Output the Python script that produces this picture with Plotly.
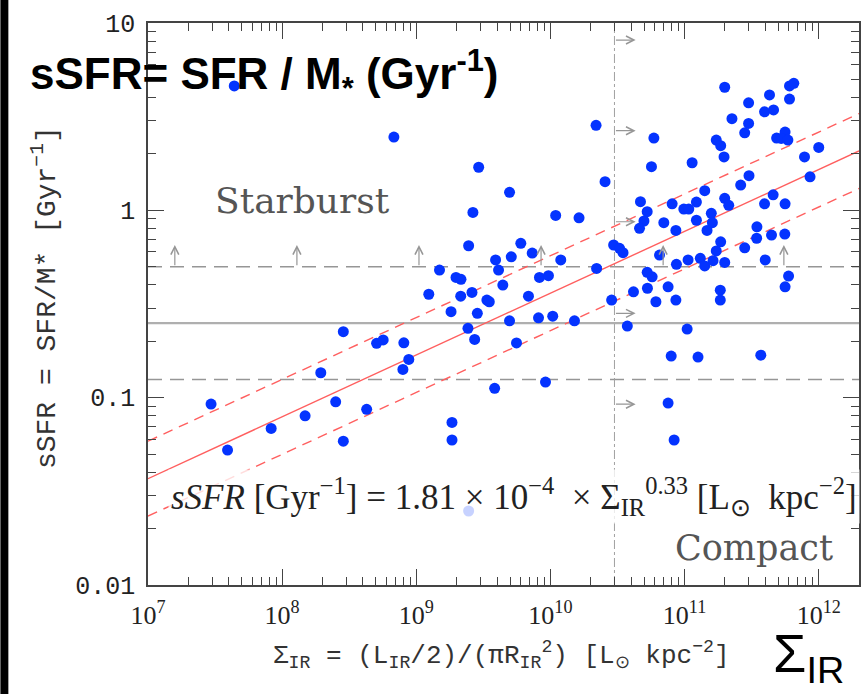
import plotly.graph_objects as go

# ---- data (log10 values) ----
log_sigma_ir = [
    9.465, 9.422, 9.390, 9.591, 9.613, 9.173, 9.296, 9.333, 9.093, 9.331,
    9.415, 9.526, 9.544, 9.259, 9.455, 9.385, 9.435, 8.456, 8.704, 8.753,
    8.907, 8.944, 8.900, 8.288, 9.584, 7.470, 8.399, 8.171, 8.630, 7.918,
    9.266, 9.266, 8.456, 7.593, 7.643, 8.833, 9.390,
    11.299, 11.477, 11.633, 11.782, 11.814, 11.782, 11.596, 11.663, 11.353, 11.477,
    11.448, 10.340, 10.771, 11.236, 11.269, 11.294, 11.686, 11.749, 11.720, 11.770,
    11.894, 12.000, 10.753, 11.056, 10.407, 9.695, 11.480, 11.418, 11.935, 11.150,
    10.671, 10.907, 11.088, 11.299, 11.329, 11.596, 11.660, 11.749, 10.721, 10.994,
    11.031, 11.199, 10.039, 10.213, 10.697, 10.664, 10.845, 10.935, 11.088, 11.207,
    11.167, 11.539, 11.537, 11.648, 11.747, 9.779, 9.708, 9.864, 10.077, 10.471,
    10.515, 10.541, 10.813, 11.269, 11.236, 11.448, 11.026, 11.117, 11.150, 11.212,
    11.299, 10.939, 11.601, 9.645, 9.918, 9.985, 10.344, 10.721, 10.758, 10.723,
    10.877, 10.619, 10.786, 10.935, 11.266, 11.266, 11.775, 11.749, 9.836, 10.456,
    9.695, 9.911, 10.017, 10.179,
    9.747, 9.963, 10.573, 11.019, 10.900, 11.100, 11.568, 10.877, 10.922,
]
log_ssfr = [
    0.230, -0.011, -0.189, -0.265, -0.319, -0.319, -0.358, -0.368, -0.448, -0.458,
    -0.438, -0.479, -0.488, -0.541, -0.550, -0.630, -0.689, -0.648, -0.710, -0.692,
    -0.707, -0.796, -0.849, -0.867, -0.950, -1.034, -1.022, -1.097, -1.062, -1.164,
    -1.132, -1.226, -1.232, -1.280, 0.664, 0.391, -1.605,
    0.657, 0.574, 0.616, 0.664, 0.678, 0.594, 0.526, 0.536, 0.489, 0.464,
    0.414, 0.454, 0.386, 0.375, 0.345, 0.285, 0.386, 0.418, 0.384, 0.375,
    0.285, 0.336, 0.233, 0.254, 0.153, 0.096, 0.185, 0.135, 0.179, 0.105,
    0.046, 0.035, 0.044, 0.064, 0.027, 0.035, 0.083, 0.035, -0.007, 0.007,
    0.007, -0.016, -0.027, -0.040, -0.057, -0.096, -0.066, -0.107, -0.053, -0.066,
    -0.107, -0.088, -0.149, -0.132, -0.127, -0.176, -0.248, -0.228, -0.265, -0.185,
    -0.203, -0.226, -0.239, -0.168, -0.217, -0.200, -0.265, -0.256, -0.297, -0.269,
    -0.278, -0.288, -0.265, -0.399, -0.358, -0.349, -0.310, -0.331, -0.355, -0.416,
    -0.408, -0.435, -0.488, -0.479, -0.426, -0.479, -0.351, -0.408, -0.458, -0.479,
    -0.590, -0.574, -0.565, -0.590,
    -0.708, -0.917, -0.618, -0.634, -0.778, -0.783, -0.773, -1.029, -1.226,
]
sigma_ir = [10 ** v for v in log_sigma_ir]
ssfr = [10 ** v for v in log_ssfr]

# fit quoted in the figure
fit_coef = 1.81e-4
fit_slope = 0.33
fit_scatter_dex = 0.2

# region limits
ssfr_levels = [0.5, 0.25, 0.125]
sigma_compact = 3e10
x_log_range = [7, 12.3]
y_log_range = [-2, 1]

# limit arrows (log positions)
up_arrow_logx = [7.20, 8.11, 9.02, 9.93, 10.84, 11.74]
up_arrow_logy = [-0.301, -0.185]
right_arrow_logy = [0.909, 0.425, -0.061, -0.550, -1.035]
right_arrow_logx = [10.477, 10.635]

x_tick_vals = [1e7, 1e8, 1e9, 1e10, 1e11, 1e12]
x_tick_text = ["10<sup>7</sup>", "10<sup>8</sup>", "10<sup>9</sup>",
               "10<sup>10</sup>", "10<sup>11</sup>", "10<sup>12</sup>"]
y_tick_vals = [0.01, 0.1, 1, 10]
y_tick_text = ["0.01", "0.1", "1", "10"]

x_minor = [k * 10 ** e for e in range(7, 13) for k in range(2, 10) if k * 10 ** e < 10 ** 12.3]
y_minor = [k * 10 ** e for e in range(-2, 1) for k in range(2, 10)]

xmin, xmax = 10 ** x_log_range[0], 10 ** x_log_range[1]
fit_x = [xmin, xmax]

fig = go.Figure()

RED = "rgb(255,95,95)"
# horizontal sSFR thresholds
fig.add_trace(go.Scatter(x=fit_x, y=[ssfr_levels[0]] * 2, mode="lines",
                         line=dict(color="rgb(150,150,150)", width=1.5, dash="14px,8px"),
                         hoverinfo="skip", showlegend=False))
fig.add_trace(go.Scatter(x=fit_x, y=[ssfr_levels[1]] * 2, mode="lines",
                         line=dict(color="rgb(175,175,175)", width=2.2),
                         hoverinfo="skip", showlegend=False))
fig.add_trace(go.Scatter(x=fit_x, y=[ssfr_levels[2]] * 2, mode="lines",
                         line=dict(color="rgb(150,150,150)", width=1.5, dash="14px,8px"),
                         hoverinfo="skip", showlegend=False))
# vertical compact limit
fig.add_trace(go.Scatter(x=[sigma_compact] * 2, y=[10 ** y_log_range[0], 10 ** y_log_range[1]],
                         mode="lines",
                         line=dict(color="rgb(160,160,160)", width=1, dash="dashdot"),
                         hoverinfo="skip", showlegend=False))

# fit lines
fit_y = [fit_coef * v ** fit_slope for v in fit_x]
for off, dash in [(0, "solid"), (fit_scatter_dex, "10px,7px"), (-fit_scatter_dex, "10px,7px")]:
    fig.add_trace(go.Scatter(x=fit_x, y=[v * 10 ** off for v in fit_y], mode="lines",
                             line=dict(color=RED, width=1.4, dash=dash),
                             hoverinfo="skip", showlegend=False))

# galaxies
fig.add_trace(go.Scatter(x=sigma_ir, y=ssfr, mode="markers",
                         marker=dict(color="#0433ff", size=11, line=dict(width=0)),
                         showlegend=False))

ann = []
ARROW = "rgb(150,150,150)"
for lx in up_arrow_logx:
    ann.append(dict(x=lx, y=up_arrow_logy[1], ax=lx, ay=up_arrow_logy[0],
                    xref="x", yref="y", axref="x", ayref="y", text="",
                    showarrow=True, arrowhead=5, arrowsize=1.3, arrowwidth=1.2,
                    arrowcolor=ARROW))
for ly in right_arrow_logy:
    ann.append(dict(x=right_arrow_logx[1], y=ly, ax=right_arrow_logx[0], ay=ly,
                    xref="x", yref="y", axref="x", ayref="y", text="",
                    showarrow=True, arrowhead=5, arrowsize=1.3, arrowwidth=1.2,
                    arrowcolor=ARROW))

ann += [
    dict(x=0.091, y=0.685, xref="paper", yref="paper", xanchor="left", yanchor="middle",
         text="Starburst", showarrow=False,
         font=dict(family="DejaVu Serif", size=36, color="#555555")),
    dict(x=0.738, y=0.066, xref="paper", yref="paper", xanchor="left", yanchor="middle",
         text="Compact", showarrow=False,
         font=dict(family="DejaVu Serif", size=35, color="#555555")),
    dict(x=0.515, y=0.158, xref="paper", yref="paper", xanchor="center", yanchor="middle",
         text="<i>sSFR</i> [Gyr<sup>−1</sup>] = 1.81 × 10<sup>−4</sup>  × Σ<sub>IR</sub><sup>0.33</sup> [L<sub>⊙</sub>  kpc<sup>−2</sup>]",
         showarrow=False, bgcolor="rgba(255,255,255,0.78)", borderpad=2,
         font=dict(family="Liberation Serif", size=35, color="#222222")),
    dict(x=-0.1445, y=0.511, xref="paper", yref="paper", xanchor="center", yanchor="middle",
         text="sSFR = SFR/M* [Gyr<sup>−1</sup>]", textangle=-90, showarrow=False,
         font=dict(family="Liberation Mono", size=28, color="#333333")),
    dict(x=0.4965, y=-0.1246, xref="paper", yref="paper", xanchor="center", yanchor="middle",
         text="Σ<sub>IR</sub> = (L<sub>IR</sub>/2)/(πR<sub>IR</sub><sup>2</sup>) [L<sub>⊙</sub> kpc<sup>−2</sup>]",
         showarrow=False,
         font=dict(family="Liberation Mono", size=26, color="#333333")),
    dict(x=0.8766, y=-0.128, xref="paper", yref="paper", xanchor="left", yanchor="middle",
         text="Σ<sub>IR</sub>", showarrow=False,
         font=dict(family="Liberation Sans", size=54, color="#000000")),
    dict(x=-0.1683, y=0.9075, xref="paper", yref="paper", xanchor="left", yanchor="middle",
         text="<b>sSFR= SFR / M<sub>*</sub> (Gyr<sup>-1</sup>)</b>", showarrow=False,
         font=dict(family="Liberation Sans", size=44, color="#000000")),
]

fig.update_layout(
    width=867, height=694,
    margin=dict(l=148, r=6, t=23, b=109),
    paper_bgcolor="white", plot_bgcolor="white",
    annotations=ann,
    shapes=[dict(type="rect", xref="paper", yref="paper",
                 x0=-0.2076, x1=-0.1964, y0=-0.2, y1=1.05,
                 fillcolor="black", line=dict(width=0))],
    xaxis=dict(type="log", range=x_log_range, showgrid=False, zeroline=False,
               showline=True, linecolor="#444444", linewidth=1.5, mirror="ticks",
               ticks="inside", ticklen=16, tickwidth=1.3, tickcolor="#444444",
               tickmode="array", tickvals=x_tick_vals, ticktext=x_tick_text,
               ticklabelstandoff=6,
               tickfont=dict(family="Liberation Serif", size=26, color="#222222"),
               minor=dict(tickmode="array", tickvals=x_minor, ticks="inside",
                          ticklen=8, tickwidth=1.1, tickcolor="#444444", showgrid=False)),
    yaxis=dict(type="log", range=y_log_range, showgrid=False, zeroline=False,
               showline=True, linecolor="#444444", linewidth=1.5, mirror="ticks",
               ticks="inside", ticklen=16, tickwidth=1.3, tickcolor="#444444",
               tickmode="array", tickvals=y_tick_vals, ticktext=y_tick_text,
               ticklabelstandoff=6,
               tickfont=dict(family="Liberation Mono", size=25, color="#222222"),
               minor=dict(tickmode="array", tickvals=y_minor, ticks="inside",
                          ticklen=8, tickwidth=1.1, tickcolor="#444444", showgrid=False)),
)

fig.write_html("out.html")
